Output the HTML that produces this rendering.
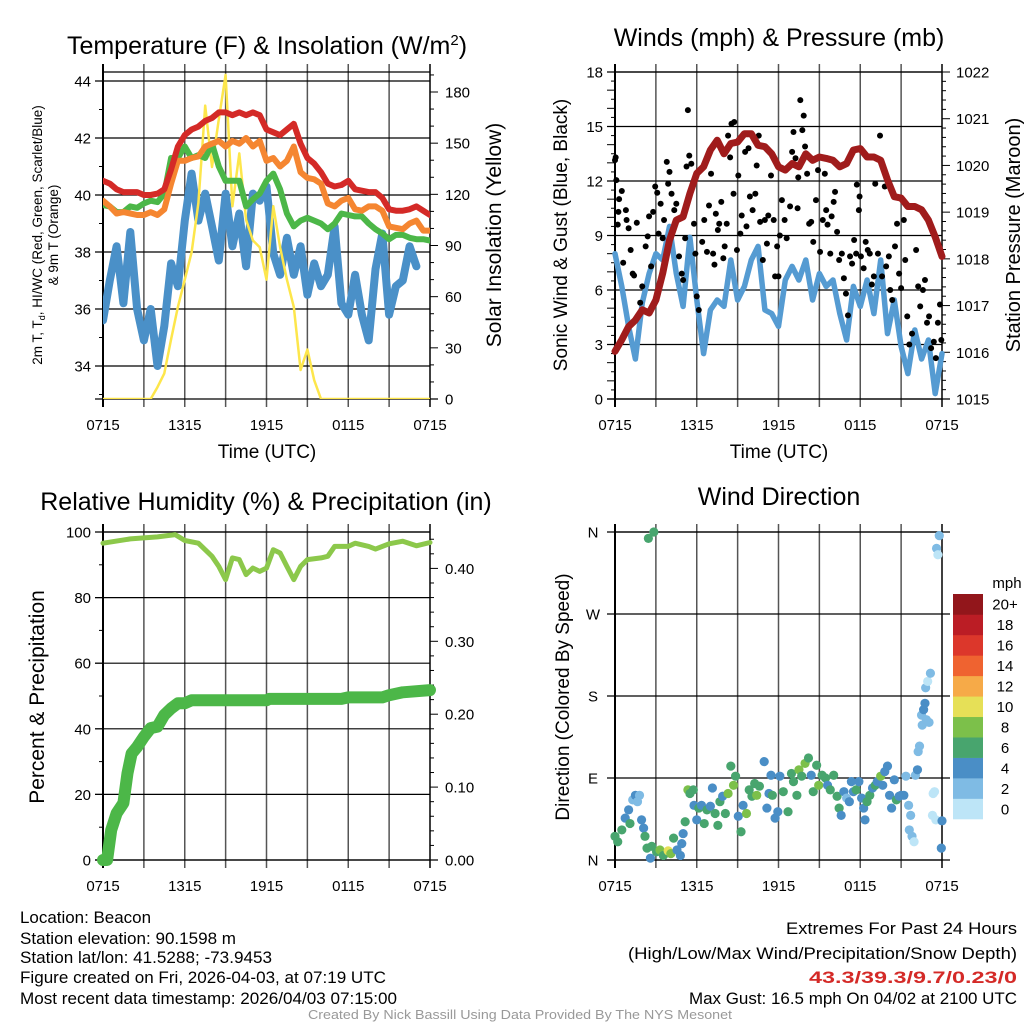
<!DOCTYPE html>
<html><head><meta charset="utf-8"><title>Beacon Meteogram</title>
<style>
html,body{margin:0;padding:0;background:#fff;}
svg{display:block;font-family:"Liberation Sans",sans-serif;}
</style></head>
<body>
<svg id="chart" width="1024" height="1024" viewBox="0 0 1024 1024" xmlns="http://www.w3.org/2000/svg">
<rect width="1024" height="1024" fill="#fff"/>
<g id="p1"></g>
<g id="p2"></g>
<g id="p3"></g>
<g id="p4"></g>

<text x="267" y="54" font-size="25" text-anchor="middle">Temperature (F) &amp; Insolation (W/m<tspan dy="-9" font-size="15">2</tspan><tspan dy="9">)</tspan></text>
<text x="779" y="46" font-size="25" text-anchor="middle">Winds (mph) &amp; Pressure (mb)</text>
<text x="266" y="510" font-size="25" text-anchor="middle">Relative Humidity (%) &amp; Precipitation (in)</text>
<text x="779" y="505" font-size="25" text-anchor="middle">Wind Direction</text>

<text transform="translate(42,235) rotate(-90)" font-size="13.5" text-anchor="middle">2m T, T<tspan font-size="9" dy="3">d</tspan><tspan dy="-3">, HI/WC (Red, Green, Scarlet/Blue)</tspan></text>
<text transform="translate(58,235) rotate(-90)" font-size="13.5" text-anchor="middle">&amp; 9m T (Orange)</text>
<text transform="translate(501,235) rotate(-90)" font-size="21" text-anchor="middle">Solar Insolation (Yellow)</text>
<text transform="translate(567,235) rotate(-90)" font-size="19" text-anchor="middle">Sonic Wind &amp; Gust (Blue, Black)</text>
<text transform="translate(1020,235) rotate(-90)" font-size="20" text-anchor="middle">Station Pressure (Maroon)</text>
<text transform="translate(44,697) rotate(-90)" font-size="21" text-anchor="middle">Percent &amp; Precipitation</text>
<text transform="translate(569,697) rotate(-90)" font-size="19" text-anchor="middle">Direction (Colored By Speed)</text>
<text x="267" y="458" font-size="19" text-anchor="middle">Time (UTC)</text>
<text x="779" y="458" font-size="19" text-anchor="middle">Time (UTC)</text>

<g font-size="16.5" lengthAdjust="spacingAndGlyphs">
<text x="20" y="923" textLength="131" lengthAdjust="spacingAndGlyphs">Location: Beacon</text>
<text x="20" y="944" textLength="216" lengthAdjust="spacingAndGlyphs">Station elevation: 90.1598 m</text>
<text x="20" y="963" textLength="252" lengthAdjust="spacingAndGlyphs">Station lat/lon: 41.5288; -73.9453</text>
<text x="20" y="983" textLength="366" lengthAdjust="spacingAndGlyphs">Figure created on Fri, 2026-04-03, at 07:19 UTC</text>
<text x="20" y="1004" textLength="377" lengthAdjust="spacingAndGlyphs">Most recent data timestamp: 2026/04/03 07:15:00</text>
</g>
<g font-size="16.5">
<text x="786" y="934" textLength="231" lengthAdjust="spacingAndGlyphs">Extremes For Past 24 Hours</text>
<text x="628" y="959" textLength="389" lengthAdjust="spacingAndGlyphs">(High/Low/Max Wind/Precipitation/Snow Depth)</text>
<text x="809" y="983" textLength="208" lengthAdjust="spacingAndGlyphs" fill="#d42a27" font-weight="bold">43.3/39.3/9.7/0.23/0</text>
<text x="689" y="1004" textLength="328" lengthAdjust="spacingAndGlyphs">Max Gust: 16.5 mph On 04/02 at 2100 UTC</text>
</g>
<text x="308" y="1019" font-size="12.5" textLength="424" lengthAdjust="spacingAndGlyphs" fill="#999">Created By Nick Bassill Using Data Provided By The NYS Mesonet</text>
</svg>
<script>
var xTickLabels=["0715","1315","1915","0115","0715"];
var halfHours=[];
var t1Ticks=[34,36,38,40,42,44];
var insolTicks=[0,30,60,90,120,150,180];
var windTicks=[0,3,6,9,12,15,18];
var presTicks=[1015,1016,1017,1018,1019,1020,1021,1022];
var rhTicks=[0,20,40,60,80,100];
var precipTicks=["0.00","0.10","0.20","0.30","0.40"];
var dirTicks=["N","E","S","W","N"];
var legendLabels=["0","2","4","6","8","10","12","14","16","18","20+"];
var legendColors=["#bde5f7","#7fbbe4","#4a8ec6","#48a56e","#7cc04a","#e6e057","#f6aa48","#ef6330","#dc372b","#bb1d25","#92161b"];

var redHI=[40.5,40.4,40.2,40.1,40.1,40.1,40.0,40.0,40.05,40.2,40.9,41.7,42.1,42.3,42.4,42.6,42.7,42.9,42.9,42.8,42.9,42.8,42.9,42.8,42.3,42.2,42.1,42.3,42.5,41.8,41.3,41.1,40.8,40.4,40.3,40.35,40.5,40.2,40.15,40.1,40.1,39.9,39.5,39.45,39.45,39.5,39.6,39.45,39.3];
var orange9m=[39.8,39.6,39.35,39.4,39.35,39.3,39.3,39.4,39.3,39.5,40.4,41.2,41.2,41.3,41.35,41.7,41.8,41.9,41.7,41.9,41.8,42.0,41.7,41.9,41.2,41.3,41.0,41.2,41.7,40.8,40.6,40.55,40.4,39.7,39.6,39.8,39.9,39.5,39.45,39.6,39.6,39.45,38.9,38.85,38.8,39.0,39.1,38.75,38.75];
var green2m=[39.65,39.6,39.4,39.4,39.6,39.55,39.7,39.8,39.75,40.05,41.3,41.3,41.7,41.3,41.4,41.3,41.8,41.0,40.5,40.5,40.5,39.6,39.85,40.05,40.5,40.75,40.2,39.35,38.9,39.1,39.2,39.1,39.0,38.8,39.0,39.35,39.3,39.25,39.25,39.0,38.8,38.65,38.45,38.6,38.6,38.5,38.45,38.45,38.4];
var blueDew=[35.6,37.0,38.2,36.2,38.7,36.0,34.9,36.0,34.0,35.4,37.6,36.8,39.1,40.75,39.1,40.05,38.9,37.7,40.05,38.2,39.35,37.5,40.05,39.8,40.3,37.95,37.2,38.5,37.2,38.2,36.5,37.6,36.8,37.2,38.9,36.2,35.8,37.2,35.8,34.9,37.4,38.65,35.8,36.8,37.0,38.2,37.5];
var insolation=[0,0,0,0,0,0,0,0,7,15,35,54,70,86,115,172,136,164,190,113,144,105,93,89,70,113,89,70,54,17,29,11,0,0,0,0,0,0,0,0,0,0,0,0,0,0,0,0,0];

var pressure=[1016.02,1016.27,1016.55,1016.69,1016.91,1016.84,1017.12,1017.69,1018.40,1018.83,1018.9,1019.40,1019.83,1019.97,1020.33,1020.54,1020.25,1020.47,1020.5,1020.68,1020.68,1020.43,1020.4,1020.25,1019.97,1019.9,1020.04,1019.97,1020.25,1020.11,1020.18,1020.15,1020.11,1019.97,1020.04,1020.33,1020.36,1020.18,1020.18,1020.11,1019.69,1019.33,1019.3,1019.12,1019.12,1019.05,1018.83,1018.47,1018.05];
var sonicWind=[8.0,6.2,4.0,2.2,5.3,6.9,8.0,7.65,9.5,6.9,5.1,8.9,5.45,2.5,4.9,5.45,5.1,7.65,5.45,6.2,7.65,8.4,4.9,4.7,4.0,6.55,7.3,6.55,7.65,5.45,6.9,6.2,6.55,4.7,3.25,6.2,5.1,6.55,4.7,7.65,3.6,5.45,2.9,1.4,3.8,2.2,3.25,0.3,2.5];
var gustTimes=[0,0.05,0.1,0.2,0.3,0.25,0.5,0.6,0.8,0.85,1.0,1.15,1.3,1.4,1.6,1.85,2.0,2.25,2.4,2.5,2.65,2.8,2.95,3.1,3.2,3.35,3.5,3.6,3.8,3.9,4.0,4.15,4.35,4.5,4.7,4.9,5.0,5.15,5.25,5.35,5.45,5.6,5.8,5.9,6.0,6.15,6.4,6.55,6.75,6.9,7.05,7.2,7.3,7.4,7.55,7.65,7.8,7.95,8.05,8.2,8.3,8.45,8.55,8.7,8.75,8.95,9.05,9.2,9.3,9.55,9.65,9.8,9.9,10.1,10.3,10.4,10.55,10.65,10.85,11.0,11.15,11.25,11.45,11.65,11.75,11.9,12.0,12.1,12.25,12.45,12.6,12.85,13.0,13.1,13.25,13.4,13.45,13.6,13.75,13.85,13.95,14.1,14.25,14.4,14.55,14.75,14.9,15.05,15.25,15.4,15.5,15.6,15.8,15.9,16.05,16.15,16.3,16.45,16.65,16.8,16.95,17.1,17.25,17.4,17.55,17.7,17.75,17.9,17.95,18.05,18.25,18.4,18.55,18.7,18.85,19.0,19.1,19.3,19.45,19.6,19.8,19.9,20.1,20.2,20.35,20.55,20.7,20.85,21.0,21.2,21.3,21.45,21.6,21.8,22.1,22.25,22.4,22.6,22.75,22.9,23.05,23.2,23.4,23.55,23.7,23.85,23.95];
var gustValues=[13.15,13.3,12.05,9.6,11.0,10.3,11.45,7.5,10.4,9.85,9.4,8.2,6.9,6.8,9.7,5.3,6.2,8.4,8.95,10.05,7.3,10.3,11.7,11.35,9.1,10.75,8.85,9.85,13.05,11.85,12.5,11.3,10.4,10.75,7.85,6.9,6.55,8.85,12.8,15.9,13.4,12.95,9.65,8.0,5.65,4.9,8.65,9.85,8.1,10.65,12.4,8.0,7.4,10.2,9.3,9.65,10.85,7.75,8.4,9.65,14.5,13.3,15.15,11.3,15.25,8.2,12.3,9.1,10.1,13.6,9.5,13.8,11.15,10.4,11.3,12.85,14.5,9.75,7.65,9.85,8.55,10.1,12.3,9.85,6.75,8.4,6.75,9.0,10.95,9.85,8.85,10.6,13.6,14.7,13.25,10.5,12.2,16.45,14.8,15.6,13.9,12.4,9.65,9.75,8.65,10.95,12.6,8.1,9.85,12.4,10.4,9.6,8.0,10.05,10.85,11.4,9.2,7.65,8.0,6.65,5.8,4.6,7.85,7.45,8.75,8.0,11.8,10.4,11.15,7.85,7.2,8.65,8.2,8.0,6.3,6.75,11.85,8.0,14.5,6.75,11.7,7.3,7.85,6.0,5.45,8.4,9.65,6.9,6.1,9.85,7.65,4.55,3.0,3.6,8.2,6.2,5.1,6.0,6.55,4.2,4.55,2.8,3.15,2.25,4.2,5.2,3.25];

var rhTimes=[0,2,4,5.3,6,7,8,8.5,9,9.5,10,10.5,11,11.5,12,12.5,13,13.5,14,14.5,15,16,16.5,17,18,18.5,19.5,20,21,22,23,24];
var rhValues=[96.6,97.9,98.5,99.2,97.4,96.6,92.6,89.5,85.5,92.1,91.6,87.0,89.0,88.0,89.0,94.6,93.6,89.5,85.5,89.5,91.6,92.1,92.6,95.6,95.6,96.6,95.6,94.8,96.4,97.2,95.8,96.8];
var precipTimes=[0,0.3,0.6,1,1.5,1.8,2.1,2.5,3,3.5,4,4.5,5,5.5,6,6.5,12,12.2,17.5,18,20.5,21,22,24];
var precipValues=[0,0,0.041,0.064,0.078,0.119,0.146,0.155,0.169,0.181,0.183,0.199,0.208,0.215,0.215,0.219,0.219,0.221,0.221,0.223,0.223,0.226,0.230,0.233];

var dirTimes=[0,0.2,0.5,0.75,1.0,1.1,1.3,1.5,1.8,1.65,1.95,2.1,2.2,2.35,2.6,2.7,2.45,2.85,3.05,3.3,3.55,3.9,4.1,4.3,4.55,4.8,4.9,5.0,5.15,5.35,5.5,5.75,5.8,6.0,6.15,6.35,6.55,6.75,7.0,7.15,7.35,7.55,7.7,7.9,8.1,8.3,8.5,8.7,8.85,9.05,9.25,9.4,9.65,9.85,10.05,10.25,10.4,10.6,10.95,11.15,11.3,11.45,11.55,11.75,11.95,12.1,12.35,12.7,12.95,13.1,13.35,13.5,13.7,13.95,14.2,14.4,14.55,14.8,14.95,15.2,15.45,15.6,15.8,16.05,16.3,16.45,16.6,16.8,17.0,17.2,17.35,17.5,17.7,17.9,18.1,18.25,18.35,18.5,18.7,18.9,19.1,19.25,19.5,19.65,19.8,20.0,20.15,20.3,20.5,20.65,20.85,21.0,21.2,21.35,21.55,21.7,21.6,21.8,21.95,22.05,22.2,22.25,22.35,22.55,22.5,22.65,22.75,22.8,22.95,23.15,22.85,23.05,23.3,23.35,23.45,23.55,23.6,23.7,23.8,24.0,23.95];
var dirDegrees=[26,20,33,46,55,40,66,71,71,64,44,35,26,13,2,15,353,360,9,11,5,10,7,24,11,5,18,29,42,77,73,77,60,44,57,60,40,55,59,79,51,38,64,70,51,73,103,82,92,48,31,60,51,77,70,84,71,81,108,57,73,93,71,46,53,92,75,53,95,86,71,99,92,106,112,93,75,104,82,93,90,82,77,93,70,57,49,75,68,64,86,75,77,86,68,57,44,64,71,79,82,86,92,82,97,103,71,57,88,66,70,71,71,92,60,49,33,26,20,93,99,119,125,148,159,165,172,189,196,205,154,151,49,73,75,44,342,335,356,43,13];
var dirSpeeds=[6,6,6,4,4,6,2,4,2,2,4,4,6,6,4,6,6,6,6,8,6,10,8,6,4,4,4,4,6,8,6,6,4,4,6,4,6,6,4,4,6,6,6,4,6,8,6,8,6,4,6,4,8,6,6,6,8,6,4,4,4,4,6,4,4,4,6,6,6,6,6,8,6,8,6,4,6,6,8,6,6,4,6,6,6,6,4,4,2,4,4,4,6,4,4,4,4,6,6,4,6,4,8,4,4,4,4,4,4,6,4,4,4,2,2,2,2,2,1,2,4,2,2,2,2,4,4,2,0,2,2,2,0,1,0,0,2,1,2,4,4];

var NS="http://www.w3.org/2000/svg";
for(var hh=0;hh<=48;hh++){halfHours.push(hh/2);}
function mk(tag,attrs,parent){var e=document.createElementNS(NS,tag);for(var k in attrs){e.setAttribute(k,attrs[k]);}parent.appendChild(e);return e;}

function lin(d0,d1,r0,r1){return function(v){return r0+(v-d0)*(r1-r0)/(d1-d0);};}

function frame(g,x0,x1,y0,y1,hasRight,name){
  var el;
  for(var i=0;i<=8;i++){
    var x=x0+(x1-x0)*i/8;
    el=mk('line',{x1:x,x2:x,y1:y0-8,y2:y1+8,stroke:(i==0||i==8)?'#000':'#555','stroke-width':(i==0)?2:1.5},g);
    
    
  }
  el=mk('line',{x1:x0,x2:x1,y1:y0,y2:y0,stroke:'#000','stroke-width':1.3},g);
  
  
  el=mk('line',{x1:x0-8,x2:x1+(hasRight?8:0),y1:y1,y2:y1,stroke:'#000','stroke-width':1.3},g);
  
  
  for(var j=0;j<xTickLabels.length;j++){
    el=mk('text',{x:x0+(x1-x0)*j/4,y:y1+31,'font-size':15,'text-anchor':'middle'},g);
    el.textContent=xTickLabels[j];
    
    
  }
}
function hgrid(g,y,x0,x1,name){
  var el=mk('line',{x1:x0-8,x2:x1,y1:y,y2:y,stroke:'#000','stroke-width':1.2},g);
  
  
}
function ylabel(g,x,y,txt,anchor,name){
  var el=mk('text',{x:x,y:y+5.5,'font-size':15,'text-anchor':anchor},g);
  el.textContent=txt;
  
  
}
function tick(g,x,y,len,name){
  var el=mk('line',{x1:x,x2:x+len,y1:y,y2:y,stroke:'#000','stroke-width':1},g);
  
  
}
function poly(g,xs,ys,fx,fy,color,w,name){
  var pts=[];for(var i=0;i<ys.length;i++){pts.push(fx(xs[i]).toFixed(1)+','+fy(ys[i]).toFixed(1));}
  var el=mk('polyline',{points:pts.join(' '),fill:'none',stroke:color,'stroke-width':w,'stroke-linejoin':'round','stroke-linecap':'round'},g);
  
  
}

/* Panel 1 */
(function(){
  var g=document.getElementById('p1'),x0=103,x1=430,y0=72,y1=399;
  var fx=lin(0,24,x0,x1), fy=lin(34,44,366,81), fi=lin(0,180,399,92);
  frame(g,x0,x1,y0,y1,true,'temperature');
  for(var v=33;v<=44;v++){tick(g,x0-(v%2==0?8:4),fy(v),(v%2==0?8:4),'temperature-y-tick');}
  t1Ticks.forEach(function(v){hgrid(g,fy(v),x0,x1,'temperature-y-gridline');ylabel(g,x0-12,fy(v),String(v),'end','temperature-y-tick-label');});
  for(var s=0;s<=190;s+=10){tick(g,x1,fi(s),(s%30==0?8:4),'insolation-y-tick');}
  insolTicks.forEach(function(v){ylabel(g,x1+15,fi(v),String(v),'start','insolation-y-tick-label');});
  var clip=mk('clipPath',{id:'c1'},g);
  
  
  var cr=mk('rect',{x:x0,y:y0,width:x1-x0,height:y1-y0},clip);
  
  
  var d=mk('g',{'clip-path':'url(#c1)'},g);
  
  
  poly(d,halfHours,blueDew,fx,fy,'#4a90c8',8,'dewpoint-line');
  poly(d,halfHours,insolation,fx,fi,'#fde64b',2.5,'insolation-line');
  poly(d,halfHours,green2m,fx,fy,'#4cb748',6,'temperature-2m-line');
  poly(d,halfHours,orange9m,fx,fy,'#f58631',6,'temperature-9m-line');
  poly(d,halfHours,redHI,fx,fy,'#d42a27',6,'heat-index-line');
})();

/* Panel 2 */
(function(){
  var g=document.getElementById('p2'),x0=615,x1=942,y0=72,y1=399;
  var fx=lin(0,24,x0,x1), fy=lin(0,18,399,72), fp=lin(1015,1022,399,72);
  frame(g,x0,x1,y0,y1,true,'winds');
  for(var v=0;v<=36;v++){tick(g,x0-(v%2==0?8:4),fy(v/2),(v%2==0?8:4),'wind-y-tick');}
  windTicks.forEach(function(v){hgrid(g,fy(v),x0,x1,'wind-y-gridline');ylabel(g,x0-12,fy(v),String(v),'end','wind-y-tick-label');});
  for(var p=0;p<=35;p++){tick(g,x1,fp(1015+p*0.2),(p%5==0?8:4),'pressure-y-tick');}
  presTicks.forEach(function(v){ylabel(g,x1+14,fp(v),String(v),'start','pressure-y-tick-label');});
  poly(g,halfHours,sonicWind,fx,fy,'#559bd2',5.5,'sonic-wind-line');
  for(var i=0;i<gustTimes.length;i++){
    var c=mk('circle',{cx:fx(gustTimes[i]),cy:fy(gustValues[i]),r:3,fill:'#000'},g);
    
    
  }
  poly(g,halfHours,pressure,fx,fp,'#a01c1c',7,'pressure-line');
})();

/* Panel 3 */
(function(){
  var g=document.getElementById('p3'),x0=103,x1=430,y0=532,y1=860;
  var fx=lin(0,24,x0,x1), fy=lin(0,100,860,532), fr=lin(0,0.1,860,787.1);
  frame(g,x0,x1,y0,y1,true,'humidity');
  for(var v=0;v<=10;v++){tick(g,x0-(v%2==0?8:4),fy(v*10),(v%2==0?8:4),'percent-y-tick');}
  rhTicks.forEach(function(v){hgrid(g,fy(v),x0,x1,'percent-y-gridline');ylabel(g,x0-12,fy(v),String(v),'end','percent-y-tick-label');});
  for(var p=0;p<=22;p++){tick(g,x1,fr(p*0.02),(p%5==0?8:4),'precip-y-tick');}
  precipTicks.forEach(function(v){ylabel(g,x1+15,fr(parseFloat(v)),v,'start','precip-y-tick-label');});
  poly(g,rhTimes,rhValues,fx,fy,'#8cc84b',5,'humidity-line');
  poly(g,precipTimes,precipValues,fx,fr,'#4cb748',12,'precipitation-line');
})();

/* Panel 4 */
(function(){
  var g=document.getElementById('p4'),x0=615,x1=942,y0=532,y1=860;
  var fx=lin(0,24,x0,x1), fd=lin(0,360,860,532);
  frame(g,x0,x1,y0,y1,false,'direction');
  for(var j=0;j<dirTicks.length;j++){
    var yy=fd(j*90);
    var el=mk('line',{x1:x0-8,x2:x1+8,y1:yy,y2:yy,stroke:'#000','stroke-width':1.2},g);
    
    
    ylabel(g,x0-22,yy,dirTicks[j],'middle','direction-y-tick-label');
  }
  for(var i=0;i<dirTimes.length;i++){
    var idx=Math.min(10,Math.floor(dirSpeeds[i]/2));
    var c=mk('circle',{cx:fx(dirTimes[i]),cy:fd(dirDegrees[i]),r:4.6,fill:legendColors[idx]},g);
    
    
  }
  var lg=mk('g',{},g);
  
  
  var t=mk('text',{x:1007,y:588,'font-size':15,'text-anchor':'middle'},lg);
  t.textContent='mph';
  
  
  var bh=225/legendColors.length;
  for(var k=0;k<legendColors.length;k++){
    var top=819-(k+1)*bh;
    var r=mk('rect',{x:953,y:top,width:30,height:bh+0.3,fill:legendColors[k]},lg);
    
    
    var lt=mk('text',{x:1005,y:top+bh/2+5.5,'font-size':15,'text-anchor':'middle'},lg);
    lt.textContent=legendLabels[k];
    
    
  }
})();
</script>
</body></html>
